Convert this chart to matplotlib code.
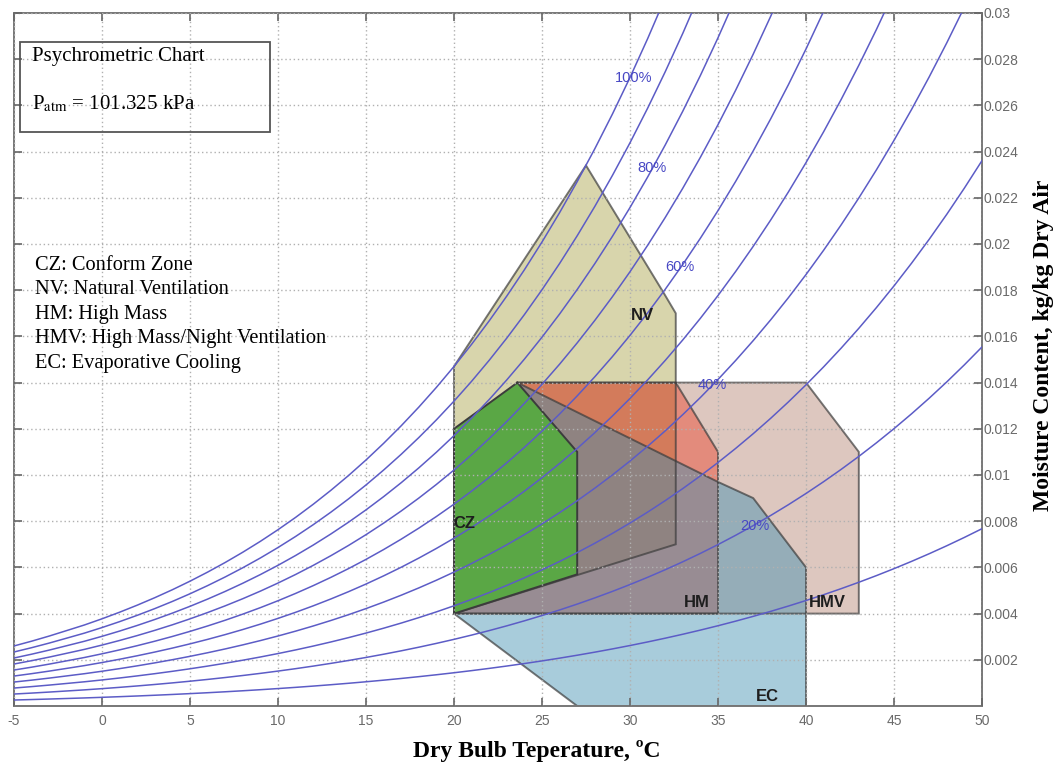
import numpy as np
import matplotlib
matplotlib.use("Agg")
import matplotlib.pyplot as plt
from matplotlib.patches import Polygon, Rectangle

# saturation vapour pressure of water (kPa), table at 1 degC steps
temps = list(range(-5, 51))
p_sat = [0.4217, 0.4550, 0.4909, 0.5294, 0.5681, 0.6112, 0.6571, 0.7060, 0.7581, 0.8135,
         0.8726, 0.9354, 1.0021, 1.0730, 1.1482, 1.2282, 1.3129, 1.4028, 1.4981, 1.5989,
         1.7057, 1.8188, 1.9383, 2.0647, 2.1982, 2.3392, 2.4881, 2.6452, 2.8109, 2.9856,
         3.1697, 3.3637, 3.5679, 3.7828, 4.0089, 4.2467, 4.4966, 4.7592, 5.0351, 5.3247,
         5.6286, 5.9475, 6.2818, 6.6324, 6.9997, 7.3844, 7.7873, 8.2090, 8.6503, 9.1118,
         9.5944, 10.0988, 10.6259, 11.1764, 11.7512, 12.3513]
p_atm = 101.325
rh_levels = [0.1, 0.2, 0.3, 0.4, 0.5, 0.6, 0.7, 0.8, 0.9, 1.0]

# RH labels: text, x, y
rh_labels = ["100%", "80%", "60%", "40%", "20%"]
rh_lab_x = [30.2, 31.25, 32.85, 34.7, 37.1]
rh_lab_y = [0.0272, 0.0233, 0.0190, 0.0139, 0.0078]

# zones (dry bulb, moisture content)
cz_t = [20, 20, 23.6, 27, 27]
cz_w = [0.004, 0.012, 0.014, 0.011, 0.0057]
nv_t = [20, 20, 27.5, 31.9, 32.6, 32.6]
nv_w = [0.004, 0.0147, 0.0234, 0.0179, 0.017, 0.007]
hm_t = [20, 23.6, 32.6, 35, 35]
hm_w = [0.004, 0.014, 0.014, 0.011, 0.004]
hmv_t = [20, 23.6, 40, 43, 43]
hmv_w = [0.004, 0.014, 0.014, 0.011, 0.004]
ec_t = [20, 23.6, 35, 37, 40, 40, 27]
ec_w = [0.004, 0.014, 0.0097, 0.009, 0.006, 0, 0]

zone_names = ["CZ", "NV", "HM", "HMV", "EC"]
zone_lab_x = [20.6, 30.7, 33.8, 41.2, 37.8]
zone_lab_y = [0.0079, 0.0169, 0.00446, 0.00446, 0.00043]

legend_lines = ["CZ: Conform Zone", "NV: Natural Ventilation", "HM: High Mass",
                "HMV: High Mass/Night Ventilation", "EC: Evaporative Cooling"]

serif = "Liberation Serif"
sans = "Liberation Sans"
plt.rcParams["mathtext.fontset"] = "stix"
plt.rcParams["axes.unicode_minus"] = False

W, H = 1057, 762


def fx(px):
    return px / W


def fy(py):
    return 1 - py / H


fig = plt.figure(figsize=(10.57, 7.62), dpi=100)
ax = fig.add_axes([fx(14), fy(706), 968 / W, 693 / H])

# fills, bottom to top
fills = [
    (nv_t, nv_w, (216 / 255, 213 / 255, 172 / 255), 1.0),
    (hmv_t, hmv_w, (134 / 255, 53 / 255, 24 / 255), 0.273),
    (hm_t, hm_w, (235 / 255, 67 / 255, 43 / 255), 0.45),
    (ec_t, ec_w, (62 / 255, 142 / 255, 177 / 255), 0.45),
]
for i, (t, w, c, a) in enumerate(fills):
    ax.add_patch(Polygon(list(zip(t, w)), closed=True, fc=c, alpha=a, ec="none", zorder=1 + 0.1 * i))
for t, w in [(nv_t, nv_w), (hmv_t, hmv_w), (hm_t, hm_w), (ec_t, ec_w)]:
    ax.add_patch(Polygon(list(zip(t, w)), closed=True, fill=False, ec="#3c3c3c", alpha=0.7,
                         lw=1.4, zorder=1.5))
ax.add_patch(Polygon(list(zip(cz_t, cz_w)), closed=True, fc="#5aa745", ec="#3c3c3c", lw=1.4, zorder=1.6))

# relative humidity curves
T = np.array(temps, dtype=float)
ps = np.array(p_sat)
for phi in rh_levels:
    pw = phi * ps
    w = 0.622 * pw / (p_atm - pw)
    ax.plot(T, w, color="#5c5cc6", lw=1.1, zorder=3)

for lab, x, y in zip(rh_labels, rh_lab_x, rh_lab_y):
    ax.text(x, y, lab, color="#4848c4", fontsize=10.5, family=sans, ha="center", va="center", zorder=4)

for lab, x, y in zip(zone_names, zone_lab_x, zone_lab_y):
    ax.text(x, y, lab, color="#1e1e1e", fontsize=12, family=sans, fontweight="bold",
            ha="center", va="center", zorder=4)

ax.set_xlim(-5, 50)
ax.set_ylim(0, 0.03)
ax.set_xticks(range(-5, 51, 5))
yt = [0.002 * i for i in range(1, 16)]
ax.set_yticks(yt)
ax.set_yticklabels([("%.3f" % v).rstrip("0") for v in yt])
ax.tick_params(axis="both", direction="in", length=6, width=1.2, color="#666666",
               labelcolor="#6a6a6a", labelsize=10, top=True, bottom=True, left=True, right=True,
               labelleft=False, labelright=True)
ax.tick_params(axis="x", pad=6)
ax.tick_params(axis="y", pad=1)
for lbl in ax.get_xticklabels() + ax.get_yticklabels():
    lbl.set_family(sans)
for s in ax.spines.values():
    s.set_color("#777777")
    s.set_linewidth(1.4)
ax.set_axisbelow(False)
ax.grid(True, color="#b0b0b0", ls=(0, (1, 2)), lw=1.0)

# title box
fig.patches.append(Rectangle((fx(20), fy(132)), 250 / W, 90 / H,
                             transform=fig.transFigure, fill=False, ec="#555555", lw=1.3, zorder=5))
fig.text(fx(32), fy(57), "Psychrometric Chart", family=serif, fontsize=15, va="center", zorder=6)
fig.text(fx(32), fy(104), r"P$_{\mathrm{atm}}$ = 101.325 kPa", family=serif, fontsize=15,
         va="center", zorder=6)

for i, line in enumerate(legend_lines):
    fig.text(fx(35), fy(265 + 24.5 * i), line, family=serif, fontsize=14.7, va="center")

fig.text(fx(537), fy(751), "Dry Bulb Teperature, ºC", family=serif, fontsize=17,
         fontweight="bold", ha="center", va="center")
fig.text(fx(1043), fy(345), "Moisture Content, kg/kg Dry Air", family=serif, fontsize=17,
         fontweight="bold", rotation=90, ha="center", va="center")

fig.savefig("out.png", dpi=100)
